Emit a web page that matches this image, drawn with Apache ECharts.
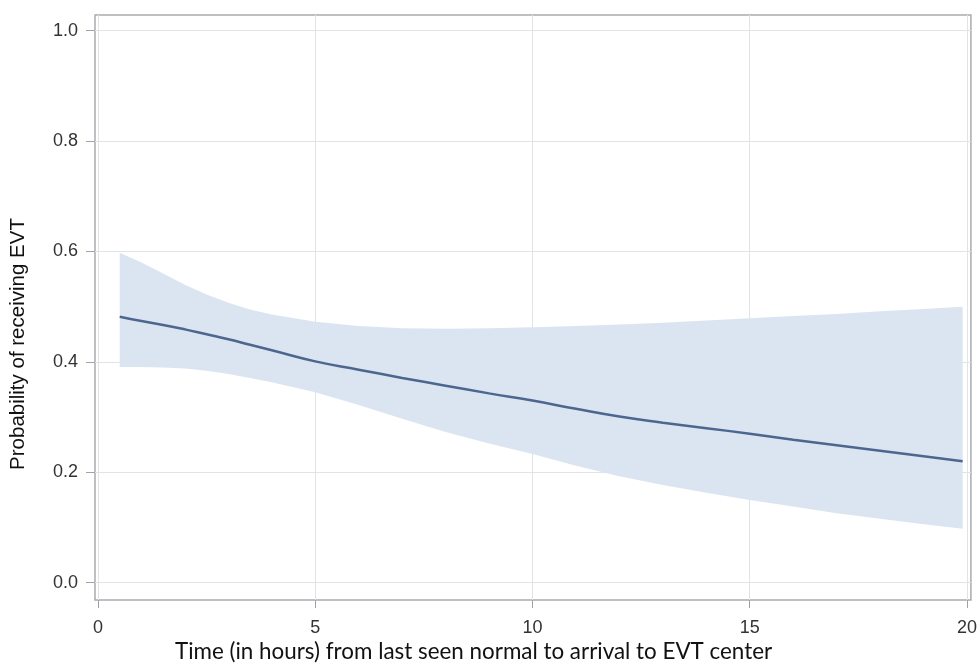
<!DOCTYPE html>
<html>
<head>
<meta charset="utf-8">
<script src="https://cdn.jsdelivr.net/npm/echarts@6/dist/echarts.min.js"></script>
<style>
html,body{margin:0;padding:0;background:#fff;}
#chart{width:980px;height:664px;}
</style>
</head>
<body>
<div id="chart"></div>
<script>
// Data
const hours = [0.5, 1, 1.5, 2, 2.5, 3, 3.5, 4, 5, 6, 7, 8, 9, 10, 11, 12, 13, 14, 15, 16, 17, 18, 19, 19.9];
const meanProb = [0.482, 0.474, 0.467, 0.459, 0.450, 0.441, 0.431, 0.421, 0.401, 0.386, 0.371, 0.357, 0.343, 0.330, 0.315, 0.301, 0.290, 0.280, 0.270, 0.259, 0.249, 0.239, 0.229, 0.220];
const upperCI = [0.598, 0.580, 0.560, 0.540, 0.522, 0.507, 0.495, 0.486, 0.473, 0.465, 0.461, 0.460, 0.461, 0.463, 0.465, 0.468, 0.471, 0.475, 0.479, 0.483, 0.487, 0.492, 0.496, 0.500];
const lowerCI = [0.391, 0.391, 0.390, 0.388, 0.384, 0.378, 0.371, 0.363, 0.345, 0.322, 0.297, 0.273, 0.252, 0.233, 0.212, 0.193, 0.177, 0.163, 0.150, 0.138, 0.126, 0.116, 0.106, 0.098];
const xTicks = [0, 5, 10, 15, 20];
const yTicks = [0.0, 0.2, 0.4, 0.6, 0.8, 1.0];
const xTitle = 'Time (in hours) from last seen normal to arrival to EVT center';
const yTitle = 'Probability of receiving EVT';

const chart = echarts.init(document.getElementById('chart'), null, {renderer: 'canvas'});
const bandData = hours.map((h, i) => [h, lowerCI[i], upperCI[i]]);
const meanData = hours.map((h, i) => [h, meanProb[i]]);

const labelStyle = {color: '#333', fontSize: 18, fontFamily: 'Liberation Sans, Arial, sans-serif'};
const gridLine = {show: true, lineStyle: {color: '#e1e3e7', width: 1}};

chart.setOption({
  animation: false,
  backgroundColor: '#fff',
  grid: {left: 95, top: 15, right: 8, bottom: 64, show: true, borderColor: '#a9abae', borderWidth: 1.5, backgroundColor: 'transparent'},
  xAxis: {
    type: 'value', min: -0.069, max: 20.09,
    axisLine: {show: false, onZero: false},
    axisTick: {show: true, length: 8, lineStyle: {color: '#a0a2a5', width: 1}, customValues: xTicks},
    axisLabel: Object.assign({customValues: xTicks, margin: 19, formatter: v => String(v)}, labelStyle),
    splitLine: gridLine
  },
  yAxis: {
    type: 'value', min: -0.0313, max: 1.0285,
    axisLine: {show: false, onZero: false},
    axisTick: {show: true, length: 9, lineStyle: {color: '#a0a2a5', width: 1}, customValues: yTicks},
    axisLabel: Object.assign({customValues: yTicks, margin: 17, formatter: v => v.toFixed(1)}, labelStyle),
    splitLine: gridLine
  },
  graphic: [
    {type: 'text', x: 175, y: 652, style: {text: xTitle, fill: '#111', font: '22.4px Lato, sans-serif', verticalAlign: 'middle'}},
    {type: 'text', x: 18, y: 344, rotation: Math.PI / 2, style: {text: yTitle, fill: '#111', font: '20.5px "Liberation Sans", Arial, sans-serif', align: 'center', verticalAlign: 'middle'}}
  ],
  series: [
    {
      type: 'custom', data: bandData, silent: true, z: 1,
      renderItem: function (params, api) {
        if (params.dataIndex !== 0) return null;
        const pts = [];
        for (let i = 0; i < bandData.length; i++) pts.push(api.coord([bandData[i][0], bandData[i][2]]));
        for (let i = bandData.length - 1; i >= 0; i--) pts.push(api.coord([bandData[i][0], bandData[i][1]]));
        return {type: 'polygon', shape: {points: pts}, style: {fill: '#dbe5f1', stroke: null}};
      },
      encode: {x: 0, y: [1, 2]}
    },
    {type: 'line', data: meanData, symbol: 'none', smooth: true, lineStyle: {color: '#4c6690', width: 2.5}, z: 5}
  ]
});
</script>
</body>
</html>
